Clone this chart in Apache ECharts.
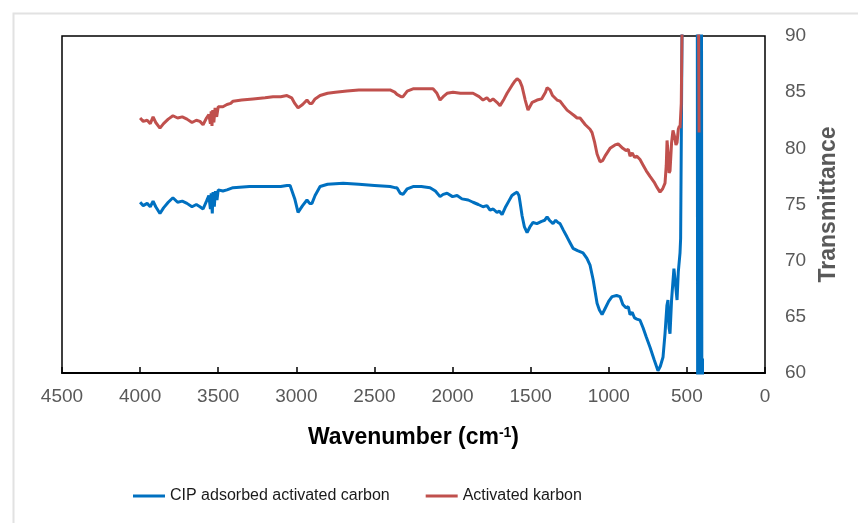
<!DOCTYPE html>
<html>
<head>
<meta charset="utf-8">
<script src="https://cdn.jsdelivr.net/npm/echarts@6/dist/echarts.min.js"></script>
<style>
  html, body { margin: 0; padding: 0; background: #fff; }
  #chart { width: 858px; height: 523px; }
</style>
</head>
<body>
<div id="chart"></div>
<script>
// FTIR spectra: wavenumber (cm-1) vs. transmittance (%)
const xTicks = [4500, 4000, 3500, 3000, 2500, 2000, 1500, 1000, 500, 0];
const yTicks = [60, 65, 70, 75, 80, 85, 90];

const seriesNames = ['CIP adsorbed activated carbon', 'Activated karbon'];

// CIP adsorbed activated carbon
const cipWavenumber = [4000,3980,3955,3935,3917,3900,3873,3850,3820,3790,3760,3730,3700,3668,3640,3617,3597,3575,3560,3550,3545,3538,3533,3525,3518,3508,3500,3470,3444,3405,3300,3200,3100,3060,3040,3028,3010,2989,2960,2932,2915,2900,2880,2848,2800,2700,2600,2500,2400,2370,2356,2335,2317,2290,2253,2200,2144,2110,2080,2060,2035,2000,1971,1940,1900,1869,1835,1805,1780,1760,1740,1716,1700,1683,1660,1640,1620,1600,1587,1575,1568,1555,1540,1523,1505,1485,1460,1430,1410,1395,1380,1357,1340,1325,1312,1290,1267,1248,1229,1200,1165,1140,1120,1100,1075,1060,1043,1025,1000,979,950,928,910,890,875,864,850,835,820,800,780,760,736,710,685,670,653,640,628,621,614,608,598,590,583,576,570,563,555,544,540,531,525,434,430,425,421,416,412,407,403,400];
const cipTransmittance = [75.2,74.9,75.1,74.8,75.3,74.8,74.2,74.7,75.2,75.6,75.2,75.3,75.1,74.8,75.0,74.8,74.6,75.3,75.8,74.6,76.0,74.2,76.1,74.8,76.2,75.4,76.3,76.2,76.3,76.5,76.6,76.6,76.6,76.7,76.7,76.6,75.5,74.3,74.9,75.4,75.1,75.1,75.8,76.6,76.8,76.9,76.8,76.7,76.6,76.5,76.5,76.0,75.9,76.4,76.6,76.6,76.5,76.2,75.7,75.9,76.0,75.7,75.8,75.5,75.4,75.2,75.0,74.8,74.9,74.5,74.6,74.3,74.4,74.1,74.8,75.3,75.8,76.0,76.1,75.8,75.2,74.0,73.0,72.5,73.0,73.4,73.3,73.5,73.6,73.9,73.6,73.3,73.6,73.4,73.3,72.7,72.1,71.6,71.1,70.9,70.7,70.2,69.6,68.3,66.2,65.6,65.2,65.7,66.4,66.8,66.9,66.8,66.1,65.8,65.9,65.2,65.4,64.9,64.8,64.7,64.0,63.2,62.3,61.2,60.2,60.6,61.4,63.5,66.0,66.5,64.0,63.5,66.5,68.0,69.3,69.4,67.5,66.5,69.0,70.7,72.0,90.5,100,100,40,100,40,100,40,100,40,61.3];

// Activated karbon
const acWavenumber = [4000,3980,3955,3935,3917,3900,3873,3850,3820,3790,3760,3730,3700,3668,3640,3617,3597,3575,3560,3550,3545,3540,3535,3528,3520,3510,3500,3470,3444,3420,3405,3350,3277,3200,3149,3100,3060,3030,3010,2989,2960,2932,2915,2900,2880,2848,2800,2750,2676,2600,2500,2400,2370,2356,2330,2317,2290,2253,2200,2125,2100,2080,2060,2035,1997,1950,1900,1869,1830,1805,1780,1760,1741,1716,1696,1670,1651,1620,1600,1587,1570,1555,1535,1517,1490,1459,1430,1421,1405,1395,1376,1360,1331,1312,1290,1267,1248,1220,1203,1184,1150,1120,1107,1090,1075,1056,1040,1020,992,960,940,928,910,890,875,864,850,835,820,800,780,760,736,710,690,672,655,640,632,627,620,614,608,598,589,578,570,563,555,548,544,536,531,525,428,422];
const acTransmittance = [82.7,82.4,82.5,82.2,82.8,82.3,81.8,82.2,82.6,82.9,82.7,82.8,82.6,82.3,82.5,82.4,82.1,82.7,83.0,82.2,83.3,82.0,83.4,82.3,83.6,82.8,83.7,83.7,83.9,84.0,84.2,84.3,84.4,84.5,84.6,84.6,84.7,84.5,84.0,83.6,83.9,84.3,84.0,84.0,84.4,84.7,84.9,85.0,85.1,85.2,85.2,85.2,85.0,84.8,84.6,84.6,85.1,85.3,85.3,85.3,84.9,84.3,84.6,84.9,85.0,84.9,84.9,84.9,84.6,84.3,84.5,84.2,84.4,84.1,83.8,84.4,84.9,85.6,86.0,86.2,86.0,85.5,84.3,83.4,84.1,84.3,84.4,84.5,85.0,85.4,85.2,84.7,84.3,84.2,83.8,83.4,83.2,82.9,82.7,82.7,82.1,81.7,81.4,80.5,79.5,78.8,78.9,79.4,80.0,80.3,80.4,80.5,80.0,79.8,79.9,79.3,79.6,79.2,79.3,79.0,78.5,78.0,77.5,77.0,76.5,76.1,76.4,76.9,78.5,80.7,79.5,77.8,78.0,80.5,81.6,81.0,80.3,80.5,81.7,82.0,81.8,84.0,90.5,100,100,81.4];

const pairs = (xs, ys) => xs.map((x, i) => [x, ys[i]]);

const chart = echarts.init(document.getElementById('chart'), null, { renderer: 'canvas' });

const tickColor = '#595959';
const baseFont = "'Liberation Sans', Arial, sans-serif";

chart.setOption({
  backgroundColor: '#ffffff',
  animation: false,
  graphic: [{
    type: 'rect',
    left: 11, top: 11,
    shape: { width: 900, height: 600 },
    style: { fill: 'none', stroke: '#e2e2e2', lineWidth: 2 },
    z: -10
  }],
  grid: {
    left: 62, right: 93, top: 36, bottom: 150,
    show: true, borderColor: '#000', borderWidth: 1.5, backgroundColor: 'transparent'
  },
  legend: {
    data: seriesNames,
    left: 128, top: 483,
    icon: 'rect', itemWidth: 32, itemHeight: 3, itemGap: 36,
    textStyle: { color: '#1a1a1a', fontSize: 16, fontFamily: baseFont }
  },
  xAxis: {
    type: 'value',
    inverse: true,
    min: 0, max: 4500, interval: 500,
    name: '{t|Wavenumber (cm}{s|-1}{t|)}',
    nameLocation: 'middle',
    nameGap: 53,
    nameTextStyle: {
      rich: {
        t: { fontSize: 23, fontWeight: 'bold', color: '#000', fontFamily: baseFont },
        s: { fontSize: 14, fontWeight: 'bold', color: '#000', fontFamily: baseFont, verticalAlign: 'top', padding: [0, 0, 10, 0] }
      }
    },
    axisLine: { show: true, lineStyle: { color: '#000', width: 2 } },
    axisTick: { show: true, inside: true, length: 6, lineStyle: { color: '#000', width: 1.5 } },
    axisLabel: {
      color: tickColor, fontSize: 19, margin: 14, fontFamily: baseFont,
      formatter: (v) => String(v)
    },
    splitLine: { show: false }
  },
  yAxis: {
    type: 'value',
    position: 'right',
    min: 60, max: 90, interval: 5,
    name: 'Transmittance',
    nameLocation: 'middle',
    nameRotate: 90,
    nameGap: 52,
    nameTextStyle: { color: tickColor, fontSize: 23, fontWeight: 'bold', fontFamily: baseFont },
    axisLine: { show: false },
    axisTick: { show: false },
    axisLabel: { color: tickColor, fontSize: 19, margin: 20, fontFamily: baseFont, formatter: (v) => String(v) },
    splitLine: { show: false }
  },
  series: [
    {
      name: seriesNames[0],
      type: 'line',
      data: pairs(cipWavenumber, cipTransmittance),
      showSymbol: false, symbol: 'none',
      clip: true,
      lineStyle: { color: '#0070C0', width: 3 },
      itemStyle: { color: '#0070C0' },
      z: 2
    },
    {
      name: seriesNames[1],
      type: 'line',
      data: pairs(acWavenumber, acTransmittance),
      showSymbol: false, symbol: 'none',
      clip: true,
      lineStyle: { color: '#C0504D', width: 3 },
      itemStyle: { color: '#C0504D' },
      z: 3
    }
  ]
});
</script>
</body>
</html>
